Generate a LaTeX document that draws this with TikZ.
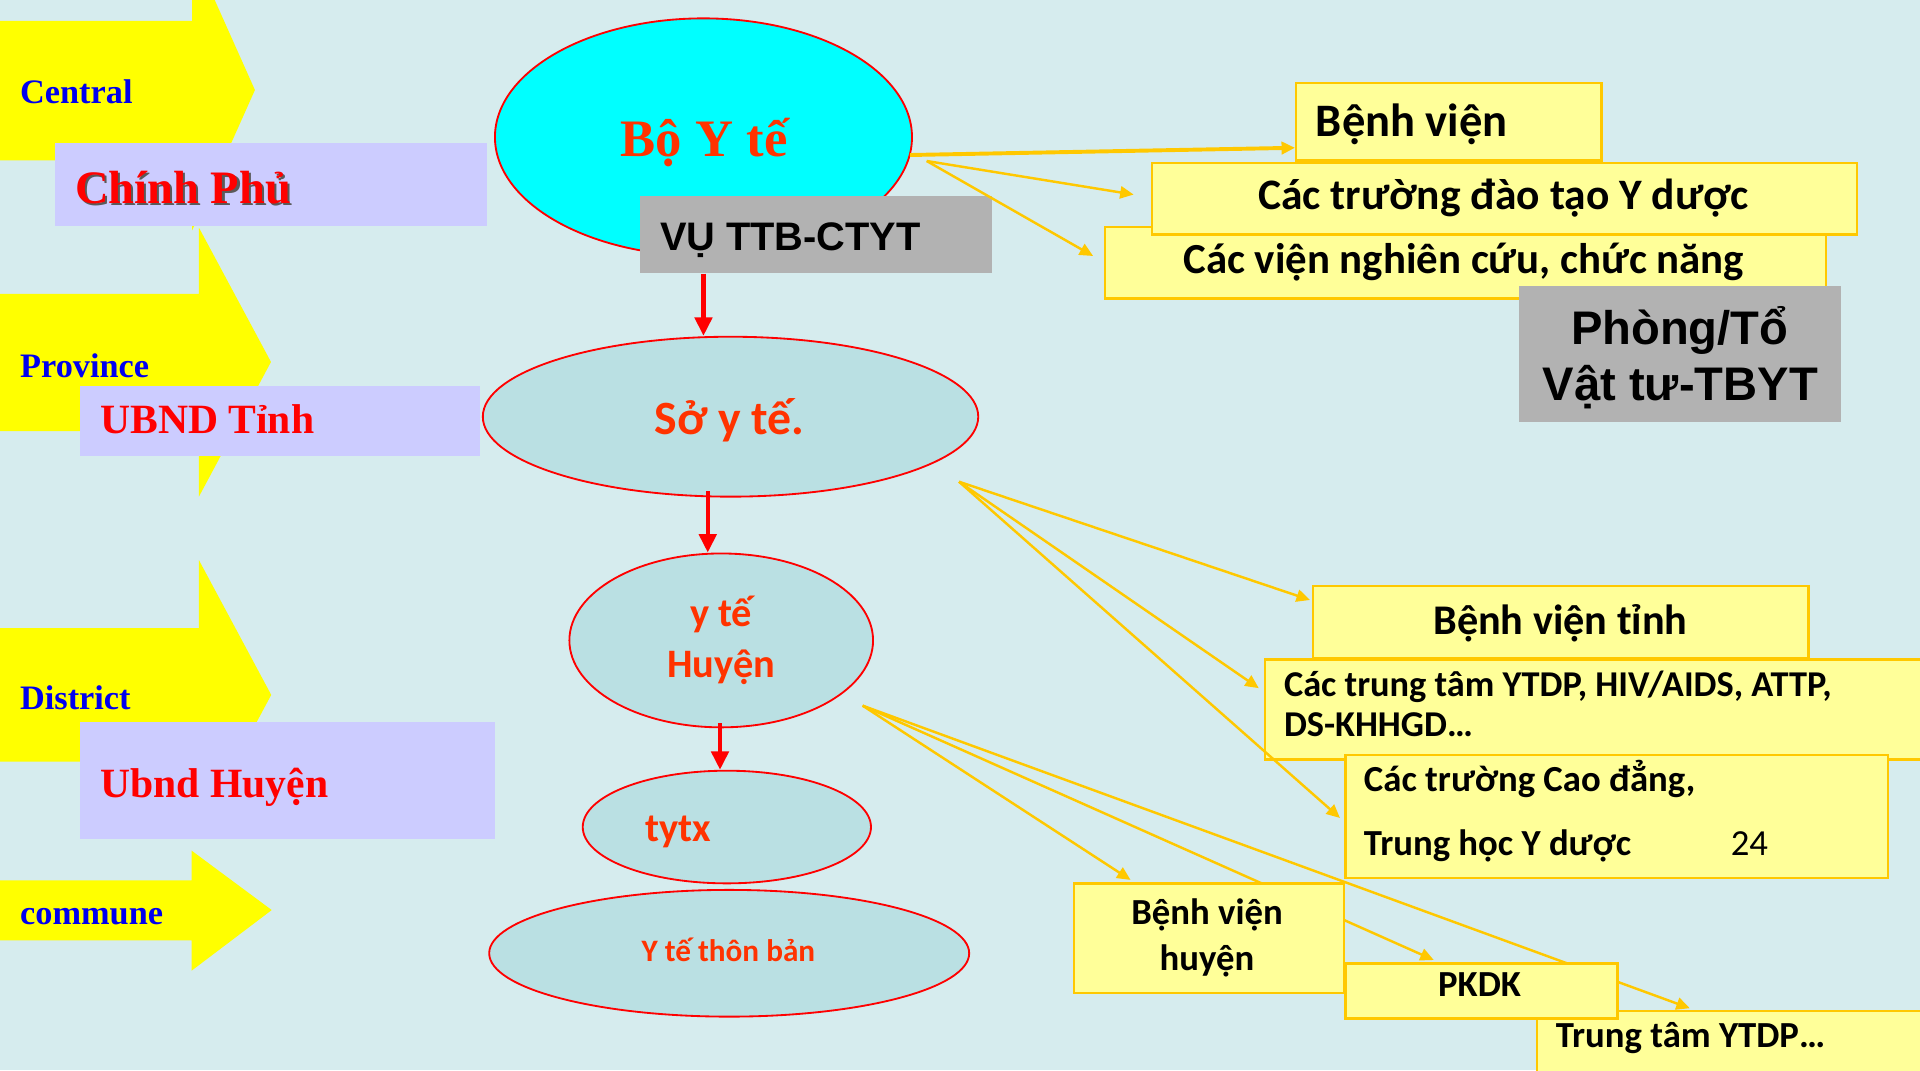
\documentclass[tikz,border=0pt]{standalone}
\usepackage{fontspec}
\setmainfont{Liberation Serif}
\newfontfamily\calfont{Carlito}
\newfontfamily\arfont{Liberation Sans}
\usetikzlibrary{shapes.geometric,arrows.meta,calc}
\definecolor{bgc}{RGB}{214,236,238}
\definecolor{arrowyel}{RGB}{255,255,0}
\definecolor{lilac}{RGB}{204,204,255}
\definecolor{lightteal}{RGB}{186,224,227}
\definecolor{brightcyan}{RGB}{0,255,255}
\definecolor{boxyel}{RGB}{255,255,153}
\definecolor{gold}{RGB}{255,200,0}
\definecolor{grayb}{RGB}{178,178,178}
\definecolor{orred}{RGB}{255,51,0}
\definecolor{lvlblue}{RGB}{0,0,238}
\definecolor{shadowc}{RGB}{90,90,90}
\newcommand{\fsz}[1]{\fontsize{#1}{#1}\selectfont}
\tikzset{
  ybox/.style={rectangle, draw=gold, line width=2pt, fill=boxyel, inner sep=0pt, anchor=north west},
  gbox/.style={rectangle, fill=grayb, inner sep=0pt, anchor=north west},
  pbox/.style={rectangle, fill=lilac, inner sep=0pt, anchor=north west},
  ell/.style={ellipse, draw=red, line width=1.5pt, fill=lightteal, inner sep=0pt},
  lvl/.style={inner sep=0pt, anchor=base west, text=lvlblue, font=\fsz{28}\bfseries},
  gov/.style={inner sep=0pt, anchor=base west, text=red, font=\bfseries},
  ctext/.style={inner sep=0pt, anchor=base, text=orred, font=\calfont\bfseries},
  btext/.style={inner sep=0pt, text=black, font=\calfont\bfseries},
  goldarr/.style={draw=gold, line width=2pt, -{Triangle[length=11pt,width=10pt]}},
  redarr/.style={draw=red, line width=3.5pt, -{Triangle[length=15pt,width=14pt]}},
}
\begin{document}
\begin{tikzpicture}[x=1pt,y=-1pt]
\useasboundingbox (0,0) rectangle (1568,874);
\fill[bgc] (0,0) rectangle (1568,874);

% level arrows
\fill[arrowyel] (0,17) -- (157,17) -- (157,-41) -- (208.2,73.5) -- (157,188) -- (157,131) -- (0,131) -- cycle;
\fill[arrowyel] (0,240) -- (162.5,240) -- (162.5,186) -- (221.3,295.6) -- (162.5,405.5) -- (162.5,352) -- (0,352) -- cycle;
\fill[arrowyel] (0,513) -- (162.5,513) -- (162.5,457.5) -- (221.5,567.5) -- (162.5,677.5) -- (162.5,622) -- (0,622) -- cycle;
\fill[arrowyel] (0,719) -- (156.5,719) -- (156.5,694.7) -- (221.9,743.2) -- (156.5,792.7) -- (156.5,768) -- (0,768) -- cycle;

\node[lvl] (tcentral) at (16.3,84.9) {Central};
\node[lvl] (tprov) at (16.3,307.9) {Province};
\node[lvl] (tdist) at (16.3,579.3) {District};
\node[lvl] (tcomm) at (16.3,755.4) {commune};

% government boxes
\node[pbox, minimum width=352.8pt, minimum height=67.8pt] (chinh) at (44.9,116.8) {};
\node[gov, text=shadowc, font=\fsz{38}\bfseries] (tchinhs) at (62.9,167.5) {Chính Phủ};
\node[gov, font=\fsz{38}\bfseries] (tchinh) at (61.2,165.8) {Chính Phủ};
\node[pbox, minimum width=326.7pt, minimum height=57.2pt] (ubndt) at (65.3,315.2) {};
\node[gov, font=\fsz{34}\bfseries] (tubndt) at (81.7,354.4) {UBND Tỉnh};
\node[pbox, minimum width=338.7pt, minimum height=95.7pt] (ubndh) at (65.3,589.6) {};
\node[gov, font=\fsz{34}\bfseries] (tubndh) at (81.7,651.5) {Ubnd Huyện};

% central column
\node[ell, fill=brightcyan, minimum width=340.6pt, minimum height=194pt] (boy) at (574.5,112) {};
\node[inner sep=0pt, anchor=base, text=orred, font=\fsz{43}\bfseries] (tboy) at (575,128) {Bộ Y tế};
\node[gbox, minimum width=287.4pt, minimum height=63pt] (vu) at (522.6,160) {};
\node[inner sep=0pt, anchor=base west, font=\arfont\fsz{32.5}\bfseries] (tvu) at (538.8,204.5) {VỤ TTB-CTYT};

\node[ell, minimum width=404.6pt, minimum height=130.6pt] (so) at (596.6,340.3) {};
\node[ctext, font=\calfont\fsz{39}\bfseries] (tso) at (596,355.2) {Sở y tế.};
\node[ell, minimum width=248pt, minimum height=142pt] (hu) at (589,523) {};
\node[ctext, font=\calfont\fsz{33}\bfseries] (thu1) at (589,512) {y tế};
\node[ctext, font=\calfont\fsz{33}\bfseries] (thu2) at (589,553) {Huyện};
\node[ell, minimum width=235.4pt, minimum height=92pt] (ty) at (593.6,675.4) {};
\node[ctext, anchor=base west, font=\calfont\fsz{33}\bfseries] (tty) at (526.7,687.4) {tytx};
\node[ell, minimum width=392pt, minimum height=103.5pt] (tb) at (595.5,778.5) {};
\node[ctext, font=\calfont\fsz{25.5}\bfseries] (ttb) at (594.8,785.4) {Y tế thôn bản};

\draw[redarr] (boy.center |- vu.south) -- (boy.center |- so.north);
\draw[redarr] ($(so.south -| hu.north)+(-11,-5)$) -- ($(hu.north)+(-11,0)$);
\draw[redarr] ($(hu.south)+(-1,-4)$) -- ($(hu.south |- ty.north)+(-1,0)$);

% top right
\coordinate (sboyA) at (743,126.6);
\coordinate (sboyB) at (756.8,131.5);
\node[ybox, minimum width=588.4pt, minimum height=58.5pt] (vien) at (901.6,184.3) {};
\node[btext, anchor=base, font=\calfont\fsz{35}\bfseries] (tvien) at (1195.4,223.2) {Các viện nghiên cứu, chức năng};
\node[ybox, minimum width=575.4pt, minimum height=58.4pt] (truong) at (940,132) {};
\node[btext, anchor=base, font=\calfont\fsz{35.5}\bfseries] (ttruong) at (1228,171.5) {Các trường đào tạo Y dược};
\node[ybox, minimum width=249.4pt, minimum height=63.3pt] (bv) at (1057.6,66.7) {};
\node[btext, anchor=base west, font=\calfont\fsz{38}\bfseries] (tbv) at (1074.5,111.6) {Bệnh viện};
\node[gbox, minimum width=262.5pt, minimum height=110.8pt] (phong) at (1240.5,233.6) {};
\node[inner sep=0pt, anchor=base, font=\arfont\fsz{38.5}\bfseries] (tphong1) at (1371.8,281) {Phòng/Tổ};
\node[inner sep=0pt, anchor=base, font=\arfont\fsz{38.5}\bfseries] (tphong2) at (1372.3,327) {Vật tư-TBYT};

\draw[goldarr, line width=3.2pt] (sboyA) -- ($(bv.south west)+(0,-11.3)$);
\draw[goldarr] (sboyB) -- ($(truong.west)+(-14.2,-3.3)$);
\draw[goldarr] (sboyB) -- ($(vien.west)+(-8.9,-5.5)$);

% bottom right
\coordinate (sso) at (783.2,393.4);
\coordinate (shu) at (704.5,576.3);
\coordinate (ebvh) at (923.3,718.6);
\coordinate (epk) at (1170.9,784);
\coordinate (etty) at (1380,823.4);
\draw[goldarr] (shu) -- (ebvh);
\draw[goldarr] (shu) -- (epk);
\draw[goldarr] (shu) -- (etty);

\node[ybox, minimum width=540pt, minimum height=81.7pt] (ttc) at (1032,537.6) {};
\node[btext, anchor=base west, font=\calfont\fsz{29.7}\bfseries] (tttc1) at (1048.4,568.4) {Các trung tâm YTDP, HIV/AIDS, ATTP,};
\node[btext, anchor=base west, font=\calfont\fsz{29.7}\bfseries] (tttc2) at (1048.4,601.6) {DS-KHHGD…};
\node[ybox, minimum width=404.6pt, minimum height=58.6pt] (bvt) at (1071.4,477.7) {};
\node[btext, anchor=base, font=\calfont\fsz{34.5}\bfseries] (tbvt) at (1274.3,517.8) {Bệnh viện tỉnh};

\draw[goldarr] (sso) -- ($(bvt.north west)+(-1.6,12.3)$);
\draw[goldarr] (sso) -- ($(ttc.north west)+(-4,24.4)$);

\node[ybox, minimum width=443.1pt, minimum height=100.2pt] (cd) at (1097.9,615.8) {};
\node[btext, anchor=base west, font=\calfont\fsz{30}\bfseries] (tcd1) at (1113.7,646.5) {Các trường Cao đẳng,};
\node[btext, anchor=base west, font=\calfont\fsz{30}\bfseries] (tcd2) at (1113.7,698.3) {Trung học Y dược};
\node[btext, anchor=base west, font=\calfont\fsz{30}] (tcd3) at (1413.3,698.3) {24};
\draw[goldarr] (sso) -- ($(cd.west)+(-3.6,1.1)$);

\node[ybox, minimum width=220.9pt, minimum height=89.3pt] (bvh) at (875.9,720.6) {};
\node[btext, anchor=base, font=\calfont\fsz{30}\bfseries] (tbvh1) at (985.7,755.4) {Bệnh viện};
\node[btext, anchor=base, font=\calfont\fsz{30}\bfseries] (tbvh2) at (985.7,792.2) {huyện};
\node[ybox, minimum width=320pt, minimum height=60pt] (tty2) at (1254,824.8) {};
\node[btext, anchor=base west, font=\calfont\fsz{30}\bfseries] (ttty2) at (1270.4,855.3) {Trung tâm YTDP…};
\node[ybox, minimum width=221.9pt, minimum height=44.9pt] (pk) at (1097.9,785.9) {};
\node[btext, anchor=base, font=\calfont\fsz{30}\bfseries] (tpk) at (1208.3,814) {PKDK};
\end{tikzpicture}
\end{document}
